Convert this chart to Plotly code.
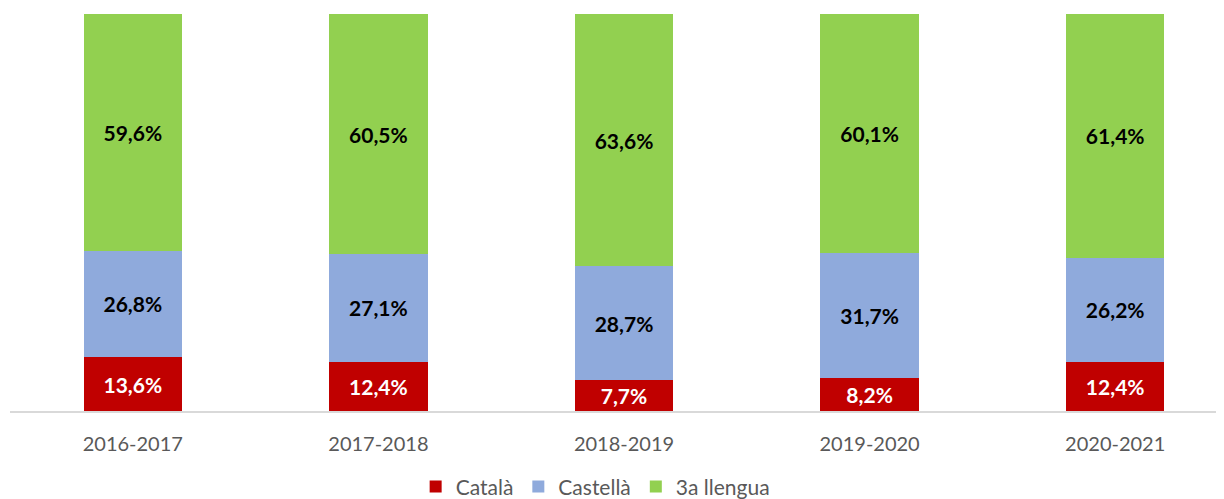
import plotly.graph_objects as go

years = ["2016-2017", "2017-2018", "2018-2019", "2019-2020", "2020-2021"]
catala = [13.6, 12.4, 7.7, 8.2, 12.4]
castella = [26.8, 27.1, 28.7, 31.7, 26.2]
tercera = [59.6, 60.5, 63.6, 60.1, 61.4]

series = [
    ("Català", catala, "#C00000", "white"),
    ("Castellà", castella, "#8FAADC", "black"),
    ("3a llengua", tercera, "#92D050", "black"),
]

def fmt(v):
    return f"{v:.1f}".replace(".", ",") + "%"

fig = go.Figure()
for name, vals, color, tcolor in series:
    fig.add_trace(go.Bar(
        name=name, x=years, y=vals,
        marker=dict(color=color, line=dict(width=0)),
        text=[fmt(v) for v in vals],
        textposition="inside", insidetextanchor="middle", textangle=0,
        constraintext="none",
        textfont=dict(family="Lato", size=21, color=tcolor, weight="bold"),
    ))

fig.update_layout(
    barmode="stack", bargap=0.6,
    width=1216, height=491,
    margin=dict(l=2, r=0, t=6, b=88, autoexpand=False),
    paper_bgcolor="white", plot_bgcolor="white",
    font=dict(family="Lato", size=20, color="#595959"),
    showlegend=True,
    legend=dict(orientation="h", x=0.482, xanchor="center", y=-0.191, yanchor="middle",
                font=dict(family="Lato", size=21, color="#595959"),
                itemwidth=30, traceorder="normal"),
    xaxis=dict(type="category", range=[-0.5, 4.443], showline=True,
               linecolor="#D9D9D9", linewidth=2, ticks="", showgrid=False,
               ticklabelstandoff=14,
               tickfont=dict(family="Lato", size=20, color="#595959")),
    yaxis=dict(range=[0, 100], visible=False, showgrid=False),
)

fig.write_html("out.html")
